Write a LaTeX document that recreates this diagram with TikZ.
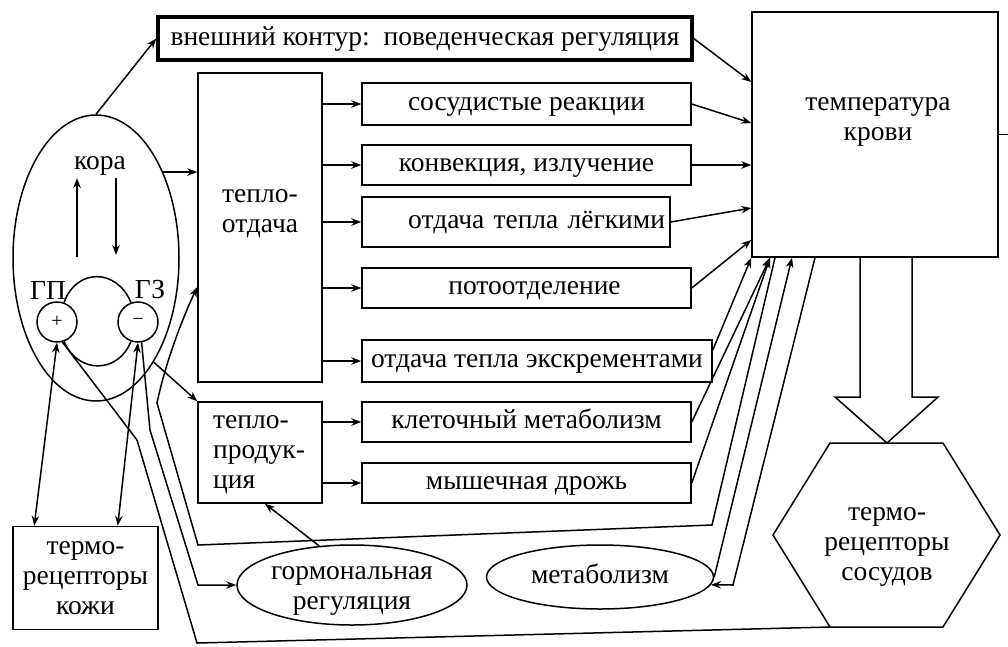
\documentclass[tikz,border=0pt]{standalone}
\usepackage{fontspec}
\setmainfont{Liberation Serif}
\usetikzlibrary{arrows.meta,calc,shapes.geometric}
\begin{document}
\begin{tikzpicture}[x=1pt,y=-1pt,
  every node/.style={font=\fontsize{27.5}{30}\selectfont},
  ln/.style={line width=1.5pt},
  arr/.style={ln,-{Stealth[length=10pt,width=7.5pt]}},
  darr/.style={ln,{Stealth[length=10pt,width=7.5pt]}-{Stealth[length=10pt,width=7.5pt]}},
  bx/.style={draw,line width=1.5pt,rectangle,inner sep=0pt},
  ell/.style={draw,line width=1.5pt,ellipse,inner sep=0pt},
  tx/.style={text height=13pt,text depth=0pt},
]
\useasboundingbox (0,0) rectangle (1008,646);

% boxes
\node[bx,tx,line width=3.5pt,minimum width=534,minimum height=43] (outer) at (425,38.5) {внешний контур:\enspace поведенческая регуляция};
\node[bx,minimum width=246,minimum height=245] (temp) at (875,134.5) {};
\node[align=center] (ttxt) at (878,122) {температура\\крови};

\node[bx,tx,minimum width=329,minimum height=42] (vas) at (526.5,104) {сосудистые реакции};
\node[bx,tx,minimum width=329,minimum height=40] (conv) at (526.5,165) {конвекция, излучение};
\node[bx,tx,minimum width=308,minimum height=50,text width=298,align=right,inner xsep=5pt] (lung) at (516,222) {отдача тепла лёгкими};
\node[bx,tx,minimum width=329,minimum height=40,text width=329,align=center] (sweat) at (526.5,288) {\hspace*{16pt}потоотделение};
\node[bx,tx,minimum width=350,minimum height=42] (exc) at (537,361) {отдача тепла экскрементами};
\node[bx,tx,minimum width=329,minimum height=40] (cell) at (526.5,422) {клеточный метаболизм};
\node[bx,tx,minimum width=329,minimum height=40] (shiv) at (526.5,483) {мышечная дрожь};

\node[bx,minimum width=124,minimum height=309] (loss) at (260,227.5) {};
\node[align=center] (losst) at (260,214) {тепло-\\отдача};
\node[bx,minimum width=124,minimum height=101] (prod) at (260,452.5) {};
\node[anchor=west,inner sep=0pt] (prodt) at (213,452) {\renewcommand{\arraystretch}{1.0}\begin{tabular}{@{}l@{}}тепло-\\продук-\\ция\end{tabular}};
\node[bx,minimum width=145,minimum height=103,align=center] (skin) at (85.5,578) {термо-\\рецепторы\\кожи};

% cortex / hypothalamus
\node[ell,minimum width=166,minimum height=286] (kora) at (96,258) {};
\node (korat) at (100,166) {кора};
\node[draw,ln,circle,minimum size=40,inner sep=0,font=\fontsize{20}{20}\selectfont] (gp) at (57,322) {+};
\node[draw,ln,circle,minimum size=40,inner sep=0,font=\fontsize{20}{20}\selectfont] (gz) at (138,322) {\textminus};
\node (gpl) at (48,290) {ГП};
\node (gzl) at (150,290) {ГЗ};

% ellipses
\node[ell,minimum width=230,minimum height=80] (horm) at (352,585) {};
\node[align=center] (hormt) at (352,591) {гормональная\\регуляция};
\node[ell,tx,minimum width=227,minimum height=64] (metab) at (600,577) {метаболизм};

% hexagon
\coordinate (h1) at (830,443);
\coordinate (h2) at (943,443);
\coordinate (h3) at (1000,535);
\coordinate (h4) at (943,627);
\coordinate (h5) at (830,627);
\coordinate (h6) at (773,535);
\draw[ln] (h1)--(h2)--(h3)--(h4)--(h5)--(h6)--cycle;
\node[align=center] (hext) at (887,547) {термо-\\рецепторы\\сосудов};

% big hollow arrow
\draw[ln] (860,0 |- temp.south) -- (860,397) -- (835,397) -- (887,443) -- (938,397) -- (912,397) -- (912,0 |- temp.south);

% temp right stub
\draw[ln] (temp.east) -- (1008,0 |- temp.east);

% cortex connectors
\coordinate (ku1) at (77,257);
\coordinate (ku2) at (77,178);
\coordinate (kd1) at (116,178);
\coordinate (kd2) at (116,255);
\draw[arr] (ku1) -- (ku2);
\draw[arr] (kd1) -- (kd2);
\draw[arr] (kora.north) -- (outer.west);
\draw[arr] (kora.52) -- (kora.52 -| loss.west);
\draw[arr] (kora.-61) -- (prod.north west);

\draw[ln] (gp.70) .. controls (76,268) and (117,268) .. (gz.110);
\draw[ln] (gp.-70) .. controls (78,374) and (118,374) .. (gz.-110);

\draw[darr] ($(skin.north west)!0.15!(skin.north east)$) -- (gp.south);
\draw[darr] ($(skin.north west)!0.72!(skin.north east)$) -- (gz.south);

\draw[ln] (gp.-75) -- (137,440) -- (197,643) -- (h5);
\draw[arr] (gz.-80) -- (150,430) -- (198,585) -- (horm.west);
\draw[arr] (775,0 |- temp.south) -- (712,525) -- (198,545) -- (157,403) .. controls (166,360) and (184,315) .. (loss.west |- 0,287);

\draw[arr] (metab.east) -- (792,0 |- temp.south);
\draw[arr] (815,0 |- temp.south) -- (733,585) -- (metab.-4);
\draw[arr] (horm.130) -- ($(prod.south west)!0.54!(prod.south east)$);

% boxes -> temperature
\draw[arr] (outer.east) -- (temp.west |- 0,82);
\draw[arr] (vas.east) -- (temp.west |- 0,123);
\draw[arr] (conv.east) -- (temp.west |- 0,165);
\draw[arr] (lung.east) -- (temp.west |- 0,208);
\draw[arr] (sweat.east) -- (temp.west |- 0,240);
\draw[arr] ($(exc.north east)!0.25!(exc.south east)$) -- (temp.south west);
\draw[arr] (cell.east) -- (770,0 |- temp.south);
\draw[arr] (shiv.east) -- (770,0 |- temp.south);

% heat loss / production -> effectors
\foreach \b in {vas,conv,lung,sweat,exc} \draw[arr] (loss.east |- \b.west) -- (\b.west);
\foreach \b in {cell,shiv} \draw[arr] (prod.east |- \b.west) -- (\b.west);
\end{tikzpicture}
\end{document}
